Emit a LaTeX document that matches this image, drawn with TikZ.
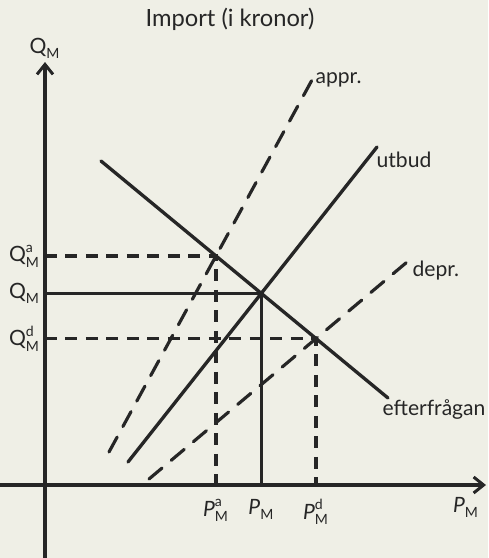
\documentclass[tikz,border=0pt]{standalone}
\usepackage{fontspec}
\setmainfont{Lato}
\usepackage{amsmath}
\usetikzlibrary{arrows.meta,positioning}
\definecolor{cpaper}{HTML}{EFEFE6}
\definecolor{cink}{HTML}{262626}
\tikzset{
  axis/.style={draw=cink, line width=2.1pt, -{Straight Barb[length=2mm,width=3.2mm,line width=1.7pt]}},
  curve/.style={draw=cink, line width=1.9pt, line cap=round},
  shifted/.style={curve, line width=1.8pt, dash pattern=on 3.4mm off 2.4mm},
  guide/.style={draw=cink, line width=1.8pt, dash pattern=on 2.4mm off 1.7mm},
  lbl/.style={font=\fontsize{12}{14}\selectfont, text=cink, inner sep=1pt},
}
\newcommand{\qlab}[1]{$\text{Q}^{\text{#1}}_{\text{M}}$}
\newcommand{\plab}[1]{$\textit{P}^{\text{#1}}_{\text{M}}$}

\begin{document}
\begin{tikzpicture}[x=0.02cm, y=-0.02cm]
  \fill[cpaper] (0,0) rectangle (488,558);
  \useasboundingbox (0,0) rectangle (488,558);

  % axes
  \coordinate (o) at (45,485);
  \coordinate (ybot) at (45,558);
  \coordinate (ytop) at (45,62);
  \coordinate (xleft) at (0,485);
  \coordinate (xright) at (486,485);
  \draw[axis] (ybot) -- (ytop);
  \draw[axis] (xleft) -- (xright);

  % curves
  \coordinate (d0) at (101,161); \coordinate (d1) at (388,398);
  \coordinate (s0) at (128,462); \coordinate (s1) at (377,147);
  \coordinate (a0) at (109,452); \coordinate (a1) at (312,80);
  \coordinate (p0) at (149,479); \coordinate (p1) at (413,257);
  \draw[curve] (d0) -- (d1);
  \draw[curve] (s0) -- (s1);
  \draw[shifted] (a0) -- (a1);
  \draw[shifted] (p0) -- (p1);

  % equilibria
  \coordinate (e)  at (intersection of d0--d1 and s0--s1);
  \coordinate (ea) at (intersection of d0--d1 and a0--a1);
  \coordinate (ed) at (intersection of d0--d1 and p0--p1);
  \coordinate (qe) at (o |- e);   \coordinate (pe) at (o -| e);
  \coordinate (qa) at (o |- ea);  \coordinate (pa) at (o -| ea);
  \coordinate (qd) at (o |- ed);  \coordinate (pd) at (o -| ed);
  \draw[curve, line cap=butt] (qe) -- (e) -- (pe);
  \draw[guide] (qa) -- (ea) -- (pa);
  \draw[guide] (qd) -- (ed) -- (pd);

  % labels
  \node[lbl, font=\fontsize{13.5}{15}\selectfont] (title) at (230,19) {Import (i kronor)};
  \node[lbl, above=0.3mm of ytop] (qaxis) {\qlab{}};
  \node[lbl, below=2mm of xright, anchor=north east, xshift=-1mm] (paxis) {\plab{}};
  \node[lbl, right=0.3mm of a1] (lappr) {appr.};
  \node[lbl, below right=0.5mm and -0.5mm of s1] (lutbud) {utbud};
  \node[lbl, below right=0.3mm and -0.5mm of p1] (ldepr) {depr.};
  \node[lbl, below right=0mm and -1.5mm of d1] (lefter) {efterfrågan};
  \node[lbl, left=0.6mm of qa] (lqa) {\qlab{a}};
  \node[lbl, left=0.6mm of qe] (lqe) {\qlab{}};
  \node[lbl, left=0.6mm of qd] (lqd) {\qlab{d}};
  \node[lbl, below=2.5mm of pa] (lpa) {\plab{a}};
  \node[lbl, below=2.5mm of pe] (lpe) {\plab{}};
  \node[lbl, below=2.5mm of pd] (lpd) {\plab{d}};
\end{tikzpicture}
\end{document}
